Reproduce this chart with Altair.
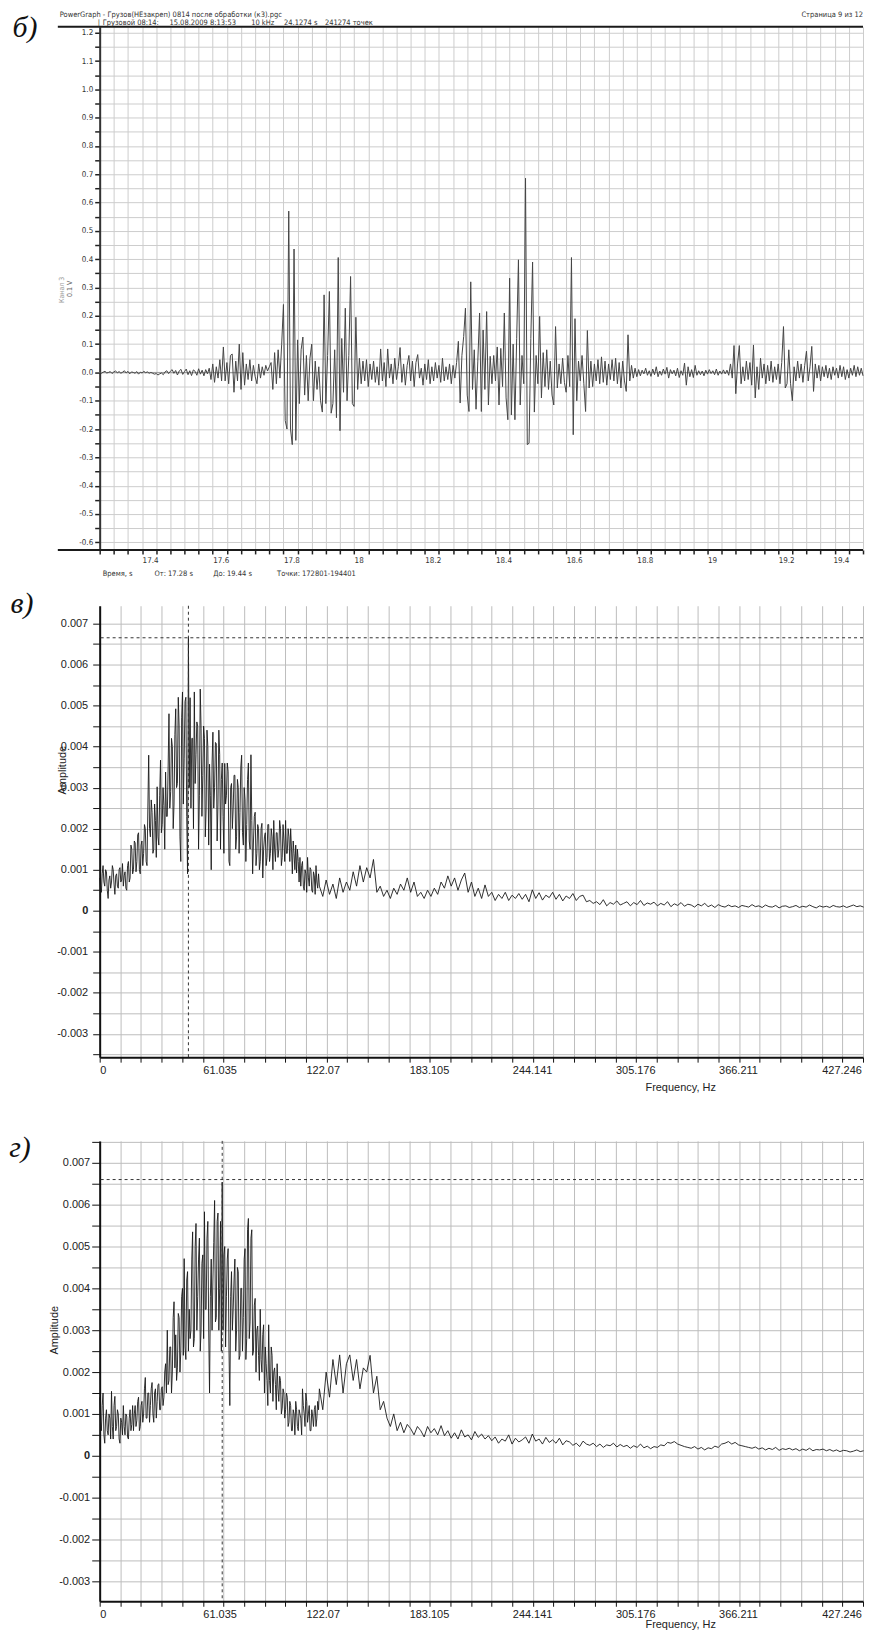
import altair as alt
import numpy as np
import pandas as pd

# ---------------- data ----------------
# Panel б: time signal, channel 3, values in mV, sampled every T_STEP from T_START
T_START = 17.28
T_STEP = 0.005
SIGNAL_MV = [
    2, -3, 1, 4, -2, 0, 3, -4, 2, 5,
    -1, 3, -3, 1, 6, -2, 4, -5, 2, 0,
    -3, 3, -6, 1, -2, 4, -1, 2, -3, 0,
    -3, -6, -4, -9, -5, -2, -8, 2, 6, -4,
    4, 10, -3, 7, -9, 5, 11, -7, 3, 12,
    -8, 6, -11, 9, 4, -10, 13, -6, 8, -12,
    10, -5, 15, -25, 30, -35, 20, -20, 45, -30,
    90, -30, 35, -40, 60, 65, -70, 40, -30, 100,
    -60, 70, -45, 30, -25, 45, -30, 25, -15, -40,
    30, -20, 20, -10, 25, 5, 20, 35, -60, 70,
    -40, 80, -20, 100, 240, -170, -200, 570, -200, -255,
    436, -240, 115, -110, 80, 125, -80, 60, -100, 50,
    100, -100, 40, -60, 20, -100, -140, 274, -110, 60,
    286, -144, -110, 80, -160, 406, -206, 120, -70, 227,
    -100, 60, 339, -110, -120, 195, -60, 50, -40, 40,
    -30, 45, -50, 30, -25, 40, -35, 20, -45, 83,
    -30, 35, -50, 83, -20, 30, -40, 50, -25, 20,
    88, -35, 30, -45, 25, 60, -30, 40, -50, 35,
    63, -20, 15, -45, 30, -25, 45, -40, 20, -30,
    35, -20, 25, -35, 50, -30, 20, -25, 30, -40,
    25, -20, 35, 110, -108, 60, 127, 227, -80, -138,
    320, -60, 80, -130, 40, 210, -138, 150, -60, 215,
    -115, 57, -40, 60, -30, 90, -115, 85, -50, 210,
    -90, -167, 333, -150, 100, -167, 120, 398, -115, 60,
    -40, 686, -255, -250, 120, 390, -140, 60, -40, 198,
    -90, 70, -50, 80, -60, 40, -80, -115, 162, -55,
    30, -40, 50, -35, -70, 60, -50, 406, -220, 190,
    -100, 40, -30, 60, -40, -138, 148, -55, 40, -50,
    30, -30, 45, -40, 55, -35, 40, -45, 30, -25,
    45, -30, 50, -40, 35, -55, 40, -30, -67, 133,
    -30, 25, -20, 15, -15, 10, -12, 8, -5, 15,
    -10, 6, -14, 12, -8, 20, -15, 5, -10, 12,
    -6, 18, -20, 10, -5, 8, -12, 15, -18, 6,
    -10, 33, -45, 20, -15, 10, -18, 25, -10, 6,
    -8, 5, -12, 8, -6, 10, -4, 6, -8, 12,
    -10, 5, -6, 9, -5, 8, -10, 30, -20, 95,
    -75, 30, 95, -40, 20, -30, 40, -25, 35, -45,
    97, -90, 20, -60, 50, -20, 30, -40, 25, -30,
    40, -35, 20, -25, 30, -40, 35, 162, -55, -40,
    80, -40, -100, 20, -30, 40, -20, 30, -35, 25,
    75, -30, 20, 92, -67, 30, -20, 25, -30, 20,
    -15, 25, -20, 15, -25, 20, -10, 15, -20, 25,
    -15, 20, -25, 10, -20, 15, -10, 25, -15, 20,
    -10, 15, -12,
]

# Spectra: amplitude in units of AMP_UNIT; fine part every 0.5 Hz from 0 Hz,
# coarse part every 2 Hz from 130 Hz
AMP_UNIT = 1e-5
F_FINE_START, F_FINE_STEP = 0.0, 0.5
F_COARSE_START, F_COARSE_STEP = 130.0, 2.0

SPEC_B_FINE = [
    80, 55, 45, 90, 110, 70, 60, 100, 95, 50,
    30, 75, 85, 55, 70, 110, 100, 65, 40, 85,
    90, 60, 55, 100, 105, 70, 75, 115, 60, 85,
    95, 55, 50, 110, 120, 70, 80, 160, 150, 90,
    100, 170, 165, 95, 120, 185, 190, 100, 90, 160,
    170, 110, 140, 210, 200, 120, 110, 250, 379, 200,
    180, 270, 240, 140, 150, 260, 220, 130, 302, 180,
    160, 280, 367, 190, 210, 300, 256, 150, 338, 230,
    230, 350, 480, 250, 290, 420, 400, 200, 260, 430,
    492, 300, 310, 520, 450, 180, 120, 470, 533, 260,
    370, 510, 520, 230, 90, 666, 300, 519, 250, 420,
    420, 200, 533, 310, 380, 460, 450, 150, 280, 540,
    443, 230, 330, 450, 420, 180, 250, 440, 400, 160,
    357, 280, 100, 360, 435, 250, 300, 410, 407, 170,
    260, 440, 380, 150, 320, 360, 230, 140, 359, 260,
    280, 360, 340, 120, 110, 300, 310, 200, 250, 330,
    330, 150, 180, 320, 300, 140, 240, 350, 379, 190,
    160, 300, 270, 120, 210, 320, 360, 170, 150, 380,
    220, 90, 170, 230, 240, 110, 140, 210, 200, 100,
    120, 200, 213, 80, 150, 180, 190, 110, 130, 210,
    210, 120, 140, 200, 180, 100, 220, 150, 120, 190,
    190, 130, 150, 220, 200, 110, 130, 210, 170, 120,
    220, 140, 140, 200, 180, 120, 200, 150, 90, 170,
    140, 100, 160, 92, 150, 120, 70, 130, 60, 110,
    120, 60, 50, 100, 90, 45, 130, 80, 60, 105,
    100, 50, 45, 95, 85, 40, 110, 70, 55, 90,
]
SPEC_B_COARSE = [
    60, 35, 75, 40, 65, 30, 80, 45, 70, 50,
    95, 60, 110, 70, 105, 80, 125, 45, 60, 35,
    50, 30, 55, 40, 65, 50, 80, 45, 70, 35,
    45, 30, 50, 35, 55, 40, 70, 55, 85, 60,
    80, 50, 75, 92, 45, 70, 35, 55, 30, 63,
    35, 45, 25, 40, 30, 45, 25, 38, 30, 42,
    28, 40, 22, 51, 30, 44, 26, 38, 32, 45,
    28, 40, 24, 36, 30, 42, 25, 35, 38, 22,
    25, 18, 22, 15, 27, 12, 20, 16, 24, 14,
    18, 22, 12, 20, 15, 25, 13, 19, 16, 21,
    12, 18, 14, 22, 10, 17, 13, 20, 11, 16,
    14, 9, 16, 12, 18, 10, 14, 8, 15, 11,
    9, 14, 10, 12, 8, 13, 11, 9, 15, 10,
    12, 8, 14, 10, 9, 13, 7, 11, 12, 8,
    10, 13, 8, 11, 9, 14, 10, 7, 12, 9,
    11, 8, 13, 10, 9, 12, 8, 11, 14, 10,
    12, 9,
]

SPEC_C_FINE = [
    140, 80, 60, 120, 150, 50, 30, 90, 110, 60,
    50, 100, 90, 40, 154, 70, 40, 120, 142, 60,
    70, 110, 100, 40, 30, 90, 80, 50, 120, 70,
    50, 100, 95, 45, 40, 90, 110, 60, 75, 120,
    60, 100, 120, 70, 85, 130, 140, 60, 70, 120,
    130, 80, 100, 160, 187, 90, 90, 150, 150, 80,
    120, 160, 175, 100, 80, 150, 160, 90, 130, 170,
    172, 110, 110, 160, 165, 120, 140, 200, 220, 150,
    300, 170, 180, 260, 260, 150, 200, 330, 368, 210,
    289, 180, 210, 340, 330, 200, 250, 380, 400, 240,
    471, 260, 230, 420, 440, 250, 350, 280, 300, 470,
    535, 260, 280, 500, 555, 300, 380, 470, 520, 250,
    300, 460, 480, 280, 583, 350, 350, 520, 560, 300,
    150, 380, 470, 300, 420, 510, 610, 320, 330, 560,
    580, 300, 400, 560, 250, 654, 300, 480, 500, 260,
    380, 470, 495, 260, 120, 380, 440, 300, 350, 420,
    470, 250, 300, 450, 440, 230, 240, 400, 400, 250,
    330, 470, 495, 230, 280, 540, 567, 280, 320, 520,
    540, 240, 250, 360, 376, 200, 300, 310, 240, 180,
    350, 230, 200, 290, 313, 150, 260, 220, 180, 120,
    313, 180, 150, 260, 240, 130, 200, 210, 170, 110,
    220, 160, 130, 190, 180, 100, 114, 160, 150, 90,
    110, 150, 140, 70, 80, 130, 120, 60, 60, 110,
    100, 50, 130, 110, 70, 60, 110, 100, 90, 50,
    160, 120, 100, 70, 150, 130, 80, 100, 120, 60,
    60, 110, 95, 70, 110, 120, 70, 90, 130, 110,
]
SPEC_C_COARSE = [
    160, 110, 200, 140, 230, 170, 241, 150, 220, 241,
    180, 230, 160, 210, 200, 240, 150, 190, 110, 130,
    90, 70, 100, 60, 80, 55, 75, 65, 50, 70,
    60, 45, 70, 55, 65, 50, 72, 48, 60, 42,
    55, 40, 62, 45, 50, 38, 58, 44, 52, 40,
    48, 36, 45, 30, 40, 35, 50, 28, 42, 33,
    38, 45, 30, 52, 35, 40, 28, 44, 32, 38,
    30, 42, 26, 36, 33, 25, 30, 22, 35, 28,
    25, 30, 22, 28, 20, 26, 24, 30, 21, 27,
    22, 25, 18, 24, 20, 28, 19, 23, 17, 22,
    20, 26, 24, 32, 30, 34, 28, 25, 22, 20,
    18, 22, 16, 20, 14, 19, 17, 23, 20, 28,
    30, 34, 28, 32, 26, 24, 22, 20, 18, 21,
    16, 19, 14, 18, 15, 20, 13, 17, 15, 18,
    14, 17, 12, 16, 13, 18, 12, 15, 14, 16,
    12, 15, 11, 14, 10, 13, 12, 9, 11, 14,
    10, 12,
]

CURSOR_B_FREQ, CURSOR_B_AMP = 52.5, 0.00665
CURSOR_C_FREQ, CURSOR_C_AMP = 72.5, 0.0066

TIME_TICKS = [round(17.28 + 0.04 * k, 2) for k in range(55)]
VOLT_TICKS = [round(-0.6 + 0.05 * k, 2) for k in range(37)]
FREQ_BIN = 12.20703125
FREQ_TICKS = [FREQ_BIN * k for k in range(38)]
FREQ_MAX = FREQ_BIN * 37
AMP_TICKS_B = [round(-0.0035 + 0.0005 * k, 4) for k in range(22)]
AMP_TICKS_C = [round(-0.0035 + 0.0005 * k, 4) for k in range(23)]

# ---------------- styling ----------------
SMALL = "DejaVu Sans Condensed, DejaVu Sans"
NARROW = "Liberation Sans Narrow, Liberation Sans"
SERIF = "Liberation Serif, DejaVu Serif"
W = 766
H1, H2, H3 = 525, 453, 462
GUARD_X = -92

anchor = pd.DataFrame({"k": [0]})


def text(t, x, y, size, font, color="#222", align="left", baseline="middle",
         angle=0, style="normal", weight="normal"):
    kw = dict(text=t, fontSize=size, font=font, color=color, align=align,
              baseline=baseline, fontStyle=style, fontWeight=weight)
    if angle:
        kw["angle"] = angle
    return alt.Chart(anchor).mark_text(**kw).encode(x=alt.value(x), y=alt.value(y))


def guard(top, bottom):
    return alt.Chart(anchor).mark_rule(strokeOpacity=0).encode(
        x=alt.value(GUARD_X), y=alt.value(top), y2=alt.value(bottom))


def hrule(x0, x1, y, color="#1a1a1a", width=2):
    return alt.Chart(anchor).mark_rule(color=color, strokeWidth=width).encode(
        x=alt.value(x0), x2=alt.value(x1), y=alt.value(y))


# ---------------- panel б ----------------
sig_df = pd.DataFrame({
    "t": T_START + T_STEP * np.arange(len(SIGNAL_MV)),
    "v": np.array(SIGNAL_MV) / 1000.0,
})

x1 = alt.X("t:Q", scale=alt.Scale(domain=[17.28, 19.44], nice=False, zero=False),
           axis=alt.Axis(values=TIME_TICKS, title=None, grid=True, gridColor="#cdcdcd",
                         gridWidth=1, domain=False, tickSize=4, tickColor="#222",
                         tickWidth=1.5,
                         labelExpr="abs(datum.value*5 - round(datum.value*5)) < 0.001 ? format(datum.value, '.3~g') : ''",
                         labelAlign={"condition": {"test": "datum.value > 19.39", "value": "right"}, "value": "left"},
                         labelBaseline="top", labelPadding=3, labelFont=SMALL,
                         labelFontSize=8, labelColor="#333", labelOverlap=False,
                         labelFlush=False))
y1 = alt.Y("v:Q", scale=alt.Scale(domain=[-0.627, 1.221], nice=False, zero=False),
           axis=alt.Axis(values=VOLT_TICKS, title=None, grid=True, gridColor="#cdcdcd",
                         gridWidth=1, domain=True, domainColor="#333", domainWidth=2,
                         tickSize=5, tickColor="#222", tickWidth=1.5,
                         labelExpr="abs(datum.value*10 - round(datum.value*10)) < 0.001 ? (datum.value < -0.0001 ? '-' : '') + format(abs(datum.value), '.1f') : ''",
                         labelPadding=2, labelFont=SMALL, labelFontSize=8,
                         labelColor="#333", labelOverlap=False, labelFlush=False))

p1 = alt.layer(
    guard(-16, 561),
    alt.Chart(pd.DataFrame({"v": [0.0]})).mark_rule(color="#9a9a9a", strokeWidth=1).encode(y=y1),
    alt.Chart(sig_df).mark_line(color="#454545", strokeWidth=1).encode(x=x1, y=y1),
    hrule(-42, W, 0),
    hrule(-42, W, H1),
    text("б)", -75, 1, 30, SERIF, color="#111", align="center", style="italic"),
    text("PowerGraph - Грузов(НЕзакреп) 0814 после обработки (к3).pgc", -40, -16, 7.5, SMALL,
         color="#333", baseline="top"),
    text("Страница 9 из 12", W, -16, 7.5, SMALL, color="#333", align="right", baseline="top"),
    text("|", -2, -8, 7.5, SMALL, color="#333", baseline="top"),
    text("Грузовой 08:14:", 3, -8, 7.5, SMALL, color="#333", baseline="top"),
    text("15.08.2009 8:13:53", 70, -8, 7.5, SMALL, color="#333", baseline="top"),
    text("10 kHz", 152, -8, 7.5, SMALL, color="#333", baseline="top"),
    text("24.1274 s", 185, -8, 7.5, SMALL, color="#333", baseline="top"),
    text("241274 точек", 226, -8, 7.5, SMALL, color="#333", baseline="top"),
    text("Канал 3", -38, 264, 7, SMALL, color="#9a9a9a", align="center", angle=270),
    text("0.1 V", -30, 263, 7, SMALL, color="#666", align="center", angle=270),
    text("Время, s", 3, 549, 7.5, SMALL, color="#333"),
    text("От: 17.28 s", 55, 549, 7.5, SMALL, color="#333"),
    text("До: 19.44 s", 114, 549, 7.5, SMALL, color="#333"),
    text("Точки: 172801-194401", 178, 549, 7.5, SMALL, color="#333"),
).properties(width=W, height=H1)


# ---------------- spectrum panels ----------------
def spectrum_panel(fine, coarse, cursor_f, cursor_a, ydom, yticks, H, tick_size,
                   label_pad, letter, letter_xy, amp_xy, freq_xy, top_guard, bottom_guard):
    f = np.concatenate([F_FINE_START + F_FINE_STEP * np.arange(len(fine)),
                        F_COARSE_START + F_COARSE_STEP * np.arange(len(coarse))])
    a = np.array(fine + coarse) * AMP_UNIT
    df = pd.DataFrame({"f": f, "a": a})
    x = alt.X("f:Q", scale=alt.Scale(domain=[0, FREQ_MAX], nice=False, zero=False),
              axis=alt.Axis(values=FREQ_TICKS, title=None, grid=True, gridColor="#bdbdbd",
                            gridWidth=1, domain=True, domainColor="#111", domainWidth=2,
                            tickSize=5, tickColor="#111", tickWidth=1,
                            labelExpr=f"(round(datum.value / {FREQ_BIN}) % 5 == 0) ? format(datum.value, '.3~f') : ''",
                            labelAlign="left", labelBaseline="top", labelPadding=2,
                            labelFont=NARROW, labelFontSize=11, labelColor="#222",
                            labelOverlap=False, labelFlush=False))
    y = alt.Y("a:Q", scale=alt.Scale(domain=ydom, nice=False, zero=False),
              axis=alt.Axis(values=yticks, title=None, grid=True, gridColor="#bdbdbd",
                            gridWidth=1, domain=True, domainColor="#111", domainWidth=2,
                            tickSize=tick_size, tickColor="#111", tickWidth=1,
                            labelExpr="abs(datum.value*1000 - round(datum.value*1000)) < 0.001 ? (datum.value < -0.0000001 ? '-' : '') + format(abs(datum.value), '.3~f') : ''",
                            labelFontWeight={"condition": {"test": "abs(datum.value) < 0.0000001", "value": "bold"}, "value": "normal"},
                            labelPadding=label_pad, labelFont=NARROW, labelFontSize=11,
                            labelColor="#222", labelOverlap=False, labelFlush=False))
    return alt.layer(
        guard(top_guard, bottom_guard),
        alt.Chart(df).mark_line(color="#1a1a1a", strokeWidth=0.9).encode(x=x, y=y),
        alt.Chart(pd.DataFrame({"a": [cursor_a]})).mark_rule(
            color="#333", strokeDash=[3, 3], strokeWidth=1).encode(y=y),
        alt.Chart(pd.DataFrame({"f": [cursor_f]})).mark_rule(
            color="#333", strokeDash=[3, 3], strokeWidth=1).encode(x=x),
        text(letter, letter_xy[0], letter_xy[1], 30, SERIF, color="#111", align="center",
             style="italic"),
        text("Amplitude", amp_xy[0], amp_xy[1], 11, NARROW, color="#222", align="center",
             angle=270),
        text("Frequency, Hz", freq_xy[0], freq_xy[1], 11, NARROW, color="#222", align="center"),
    ).properties(width=W, height=H)


p2 = spectrum_panel(SPEC_B_FINE, SPEC_B_COARSE, CURSOR_B_FREQ, CURSOR_B_AMP,
                    [-0.003566, 0.00743], AMP_TICKS_B, H2, 7, 5,
                    "в)", (-78, -2), (-37, 165), (583, 484), -20, 505)
p3 = spectrum_panel(SPEC_C_FINE, SPEC_C_COARSE, CURSOR_C_FREQ, CURSOR_C_AMP,
                    [-0.003476, 0.007524], AMP_TICKS_C, H3, 8, 2,
                    "г)", (-80, 7), (-45, 190), (583, 486), -32, H3)

chart = alt.concat(p1, p2, p3, columns=1, spacing=0, align="none", bounds="full").properties(
    padding=0
).configure_view(strokeOpacity=0)

chart.save("out.html", embed_options={"renderer": "svg", "actions": False})
